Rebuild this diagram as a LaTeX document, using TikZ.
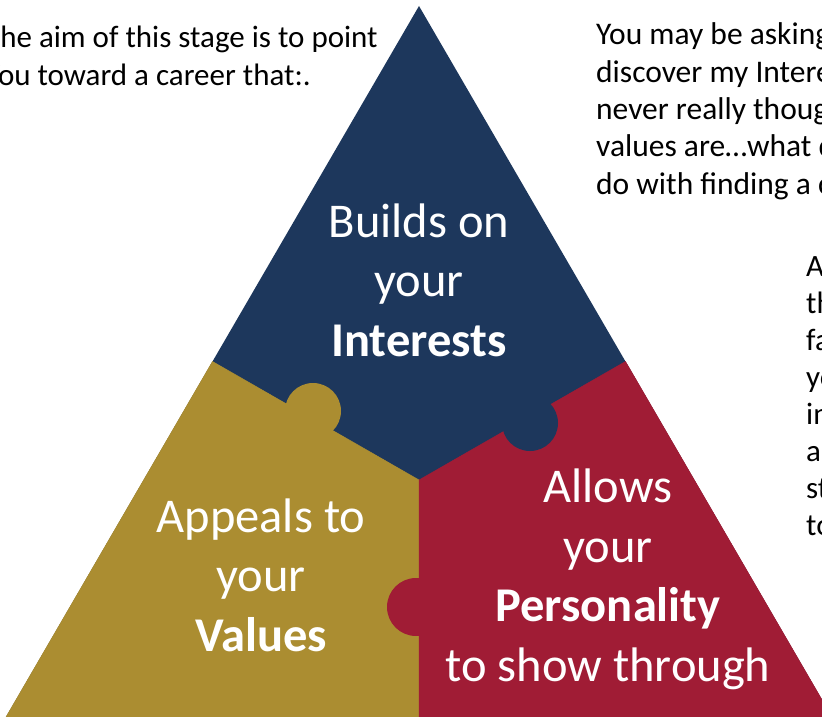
\documentclass[tikz,border=0pt]{standalone}
\usepackage{fontspec}
\setmainfont{Carlito}
\definecolor{navyblue}{HTML}{1D375C}
\definecolor{goldtone}{HTML}{AB8D31}
\definecolor{crimson}{HTML}{A01C35}
\tikzset{
  sidetext/.style={font=\fontsize{31}{37.5}\selectfont, align=left, inner sep=0pt, anchor=base west, text=black},
  inlabel/.style={font=\fontsize{48.5}{59.5}\selectfont, align=center, inner sep=0pt, anchor=base, text=white},
  piece/.style={fill=#1, draw=#1, line width=0.5pt}
}
\begin{document}
\begin{tikzpicture}[x=1pt,y=-1pt]
\useasboundingbox (0,0) rectangle (822,717);
\clip (0,0) rectangle (822,717);
% corner points
\coordinate (apex) at (419,6);
\coordinate (bl) at (6,717);
\coordinate (br) at (832,717);
\coordinate (lm) at (212.5,361.5);
\coordinate (rm) at (625.5,361.5);
\coordinate (bm) at (419,717);
\coordinate (c) at (419,480);
% pieces
\fill[navyblue] (apex) -- (bl) -- (br) -- cycle;
\filldraw[piece=goldtone] (lm) -- (bl) -- (bm) -- (c) -- cycle;
\filldraw[piece=crimson] (c) -- (bm) -- (br) -- (rm) -- cycle;
% puzzle tabs
\fill[goldtone] (313,411) circle (28);
\fill[navyblue] (530,423) circle (28);
\fill[crimson] (416,607) circle (29);
% labels inside (base anchor = last line's baseline)
\node[inlabel] (interests) at (419,356) {Builds on\\your\\\textbf{Interests}};
\node[inlabel] (values) at (261,651) {Appeals to\\your\\\textbf{Values}};
\node[inlabel] (personality) at (608,681) {Allows\\your\\\textbf{Personality}\\to show through};
% side texts
\node[sidetext, font=\fontsize{31}{38}\selectfont] (aim) at (-15,85) {The aim of this stage is to point\\You toward a career that:.};
\node[sidetext, font=\fontsize{31.5}{37.3}\selectfont] (asking) at (596,194) {You may be asking\\discover my Interests\\never really thought\\values are…what does\\do with finding a career};
\node[sidetext, font=\fontsize{31}{37}\selectfont] (side) at (806,535) {A\\th\\fa\\yo\\in\\a\\st\\to};
\end{tikzpicture}
\end{document}
